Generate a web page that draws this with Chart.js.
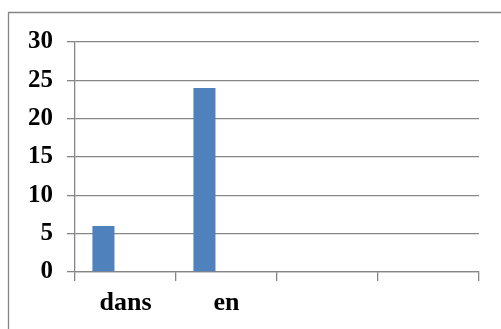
<!DOCTYPE html>
<html>
<head>
<meta charset="utf-8">
<script src="https://cdn.jsdelivr.net/npm/chart.js@4/dist/chart.umd.min.js"></script>
<style>
  html, body { margin: 0; padding: 0; background: #ffffff; }
  #wrap { width: 501px; height: 329px; }
</style>
</head>
<body>
<div id="wrap"><canvas id="c" width="501" height="329"></canvas></div>
<script>
// Categories along the x axis
const categories = ['dans', 'en', '', ''];
// Three series; only the first carries values
const series1 = [6, 24, null, null];
const series2 = [null, null, null, null];
const series3 = [null, null, null, null];
// Value axis settings
const yMin = 0;
const yMax = 30;
const yStep = 5;

const gridGray = '#868686';
const barBlue = '#4F81BD';
const serif = '"Liberation Serif", "Times New Roman", serif';
const xFont = { family: serif, size: 26, weight: 'bold' };
const yFont = { family: serif, size: 25, weight: 'bold' };

// Frame around the chart (top and left edges fall inside the canvas)
const framePlugin = {
  id: 'frame',
  beforeDraw(chart) {
    const ctx = chart.ctx;
    ctx.save();
    ctx.fillStyle = '#ffffff';
    ctx.fillRect(0, 0, chart.width, chart.height);
    ctx.strokeStyle = gridGray;
    ctx.lineWidth = 1.3;
    ctx.beginPath();
    ctx.moveTo(8.5, chart.height + 2);
    ctx.lineTo(8.5, 12.5);
    ctx.lineTo(chart.width + 2, 12.5);
    ctx.stroke();
    ctx.restore();
  }
};

new Chart(document.getElementById('c'), {
  type: 'bar',
  data: {
    labels: categories,
    datasets: [
      { data: series1, backgroundColor: barBlue },
      { data: series2, backgroundColor: '#C0504D' },
      { data: series3, backgroundColor: '#9BBB59' }
    ]
  },
  options: {
    responsive: false,
    animation: false,
    devicePixelRatio: 1,
    layout: { padding: { left: 0, top: 42, right: 22, bottom: 0 } },
    categoryPercentage: 0.655,
    barPercentage: 1.0,
    plugins: {
      legend: { display: false },
      tooltip: { enabled: false }
    },
    scales: {
      x: {
        grid: {
          offset: true,
          drawOnChartArea: false,
          drawTicks: true,
          tickLength: 9,
          color: gridGray,
          lineWidth: 1.3
        },
        border: { display: true, color: gridGray, width: 1.3 },
        ticks: { color: '#000000', font: xFont, padding: 7, maxRotation: 0, autoSkip: false },
        afterFit(scale) { scale.height = 57; }
      },
      y: {
        min: yMin,
        max: yMax,
        grid: {
          drawTicks: true,
          tickLength: 8,
          color: gridGray,
          lineWidth: 1.3
        },
        border: { display: true, color: gridGray, width: 1.3 },
        ticks: { stepSize: yStep, color: '#000000', font: yFont, padding: 14 },
        afterFit(scale) { scale.width = 75; }
      }
    }
  },
  plugins: [framePlugin]
});
</script>
</body>
</html>
